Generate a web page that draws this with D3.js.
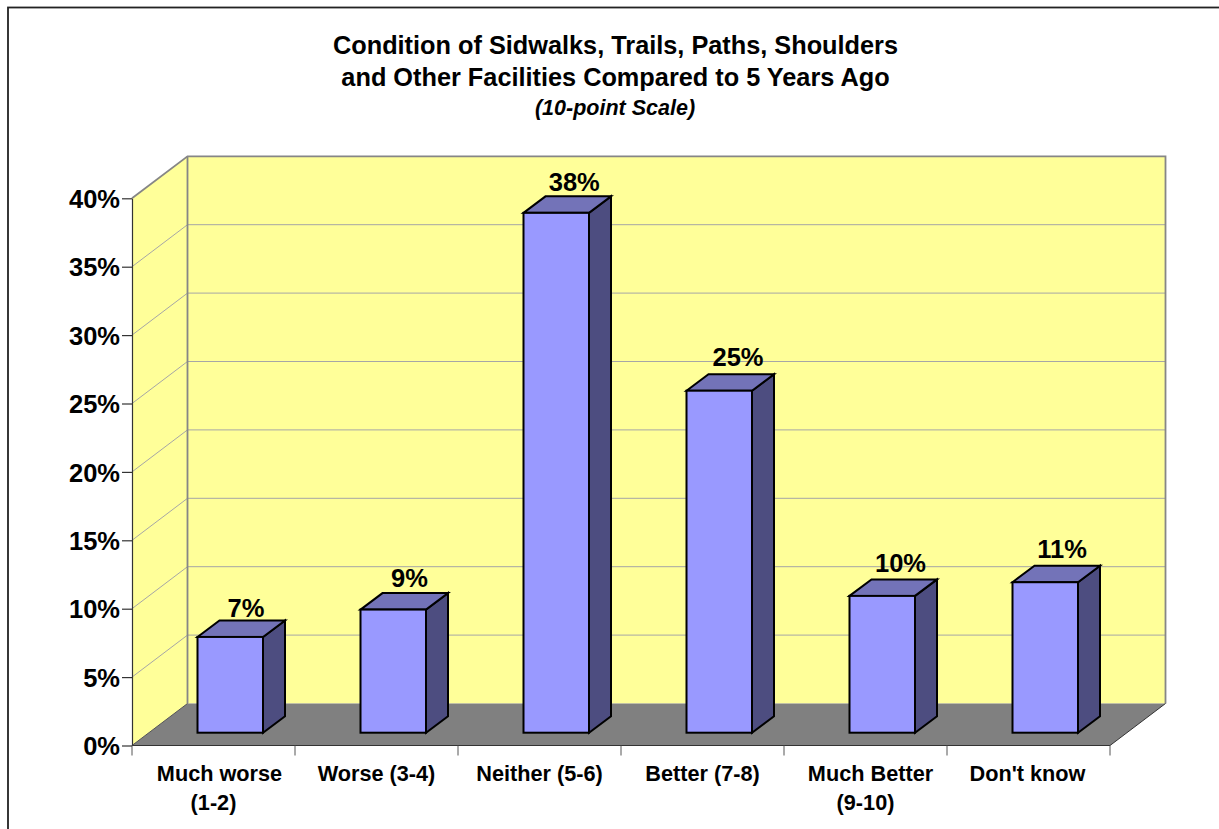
<!DOCTYPE html>
<html>
<head>
<meta charset="utf-8">
<script src="https://cdn.jsdelivr.net/npm/d3@7/dist/d3.min.js"></script>
<style>
html, body { margin: 0; padding: 0; background: #fff; overflow: hidden; }
svg { display: block; }
text { font-family: "Liberation Sans", Arial, sans-serif; font-weight: bold; fill: #000; }
</style>
</head>
<body>
<svg id="chart" width="1219" height="829"></svg>
<script>
const categories = [["Much worse", "(1-2)"], ["Worse (3-4)"], ["Neither (5-6)"], ["Better (7-8)"], ["Much Better", "(9-10)"], ["Don't know"]];
const percentages = [7, 9, 38, 25, 10, 11];
const tickValues = [0, 5, 10, 15, 20, 25, 30, 35, 40];
const titleLines = ["Condition of Sidwalks, Trails, Paths, Shoulders", "and Other Facilities Compared to 5 Years Ago"];
const subtitle = "(10-point Scale)";

const svg = d3.select("#chart");

// Oblique projection: the wall sits behind the axis plane by this offset.
const depth = { dx: 55.5, dy: -42 };
const barDepth = { dx: 22, dy: -16.5 };
const barInset = { dx: 16.75, dy: -12.8 };

const y = d3.scaleLinear().domain([0, 40]).range([745.5, 198.3]);
const x = d3.scaleBand().domain(d3.range(categories.length)).range([132, 1110]);
const barWidth = 65.5;

// Hand placement of labels, in px
const labelShift = [6, 0, 0, 0, 5, -1];
const valueShiftX = [-2.25, -1.75, 0, 0.75, 0.25, -1.25];
const valueShiftY = [1, -2, -1.5, -4, -3, -3.4];

const poly = pts => pts.map(p => p.join(",")).join(" ");
const x0 = x.range()[0], x1 = x.range()[1];
const yBase = y(0), yTop = y(40);

// Outer frame: it runs past the right and bottom of the page
svg.append("rect").attr("x", 8).attr("y", 7.5).attr("width", 1230).attr("height", 840)
  .attr("fill", "#fff").attr("stroke", "#222").attr("stroke-width", 1.8);

// Back wall and side wall
svg.append("polygon")
  .attr("points", poly([[x0 + depth.dx, yTop + depth.dy], [x1 + depth.dx, yTop + depth.dy], [x1 + depth.dx, yBase + depth.dy], [x0 + depth.dx, yBase + depth.dy]]))
  .attr("fill", "#ffff99");
svg.append("polygon")
  .attr("points", poly([[x0, yTop], [x0 + depth.dx, yTop + depth.dy], [x0 + depth.dx, yBase + depth.dy], [x0, yBase]]))
  .attr("fill", "#ffff99");

// Floor
svg.append("polygon")
  .attr("points", poly([[x0, yBase], [x0 + depth.dx, yBase + depth.dy], [x1 + depth.dx, yBase + depth.dy], [x1, yBase]]))
  .attr("fill", "#808080");

// Gridlines wrapping the side wall and the back wall
const grid = svg.append("g").attr("fill", "none").attr("stroke", "#a6a6a6").attr("stroke-width", 1);
tickValues.filter(v => v > 0 && v < 40).forEach(v => {
  grid.append("polyline")
    .attr("points", poly([[x0, y(v)], [x0 + depth.dx, y(v) + depth.dy], [x1 + depth.dx, y(v) + depth.dy]]));
});

// Wall outlines
const wallEdge = svg.append("g").attr("fill", "none").attr("stroke", "#868686").attr("stroke-width", 1.8);
wallEdge.append("polyline")
  .attr("points", poly([[x0, yTop], [x0 + depth.dx, yTop + depth.dy], [x1 + depth.dx, yTop + depth.dy], [x1 + depth.dx, yBase + depth.dy]]));
wallEdge.append("line")
  .attr("x1", x0 + depth.dx).attr("x2", x0 + depth.dx)
  .attr("y1", yTop + depth.dy).attr("y2", yBase + depth.dy);

// Floor edges
svg.append("line").attr("x1", x0).attr("x2", x0 + depth.dx).attr("y1", yBase).attr("y2", yBase + depth.dy)
  .attr("stroke", "#555").attr("stroke-width", 1);
svg.append("line").attr("x1", x1).attr("x2", x1 + depth.dx).attr("y1", yBase).attr("y2", yBase + depth.dy)
  .attr("stroke", "#333").attr("stroke-width", 1);

// Value axis
const yAxis = d3.axisLeft(y).tickValues(tickValues).tickSize(10).tickSizeOuter(0).tickPadding(2).tickFormat(d => d + "%");
const yG = svg.append("g").attr("transform", `translate(${x0},0)`).call(yAxis);
yG.selectAll("path, line").attr("stroke", "#333").attr("stroke-width", 1.2);
yG.selectAll("text").attr("font-size", 25.5).attr("dy", "0.36em");

// Category axis: ticks mark the band edges, labels sit between them
const xAxisG = svg.append("g");
xAxisG.append("line").attr("x1", x0).attr("x2", x1).attr("y1", yBase).attr("y2", yBase)
  .attr("stroke", "#333").attr("stroke-width", 1.2);
d3.range(categories.length + 1).forEach(i => {
  const px = i < categories.length ? x(i) : x1;
  xAxisG.append("line").attr("x1", px).attr("x2", px).attr("y1", yBase).attr("y2", yBase + 10)
    .attr("stroke", "#555").attr("stroke-width", 1);
});
categories.forEach((lines, i) => {
  const t = xAxisG.append("text").attr("text-anchor", "middle").attr("font-size", 21.7);
  lines.forEach((line, k) => {
    t.append("tspan")
      .attr("x", x(i) + x.bandwidth() / 2 + (k === 0 ? labelShift[i] : 0))
      .attr("y", 781 + k * 29).text(line);
  });
});

// Bars: side, top and front faces
const bars = svg.append("g").selectAll("g").data(percentages).join("g")
  .attr("stroke", "#000").attr("stroke-width", 2).attr("stroke-linejoin", "miter");
const barLeft = (d, i) => x(i) + (x.bandwidth() - barWidth) / 2 + barInset.dx;
const barTop = d => y(d) + barInset.dy;
const barBase = yBase + barInset.dy;

bars.append("polygon").attr("fill", "#4d4d80").attr("points", (d, i) => {
  const r = barLeft(d, i) + barWidth;
  return poly([[r, barTop(d)], [r + barDepth.dx, barTop(d) + barDepth.dy], [r + barDepth.dx, barBase + barDepth.dy], [r, barBase]]);
});
bars.append("polygon").attr("fill", "#7373b8").attr("points", (d, i) => {
  const l = barLeft(d, i), r = l + barWidth, t = barTop(d);
  return poly([[l, t], [l + barDepth.dx, t + barDepth.dy], [r + barDepth.dx, t + barDepth.dy], [r, t]]);
});
bars.append("rect").attr("fill", "#9999ff")
  .attr("x", barLeft).attr("y", barTop)
  .attr("width", barWidth).attr("height", d => barBase - barTop(d));

// Value labels above each bar
svg.append("g").selectAll("text").data(percentages).join("text")
  .attr("text-anchor", "middle").attr("font-size", 25.5)
  .attr("x", (d, i) => barLeft(d, i) + barWidth / 2 + 18 + valueShiftX[i])
  .attr("y", (d, i) => barTop(d) + barDepth.dy - 4 + valueShiftY[i])
  .text(d => d + "%");

// Title block
const title = svg.append("g").attr("text-anchor", "middle");
titleLines.forEach((line, i) => {
  title.append("text").attr("x", 615.5).attr("y", 54 + i * 32).attr("font-size", 25.3).text(line);
});
title.append("text").attr("x", 615).attr("y", 115).attr("font-size", 21.5).attr("font-style", "italic").text(subtitle);
</script>
</body>
</html>
